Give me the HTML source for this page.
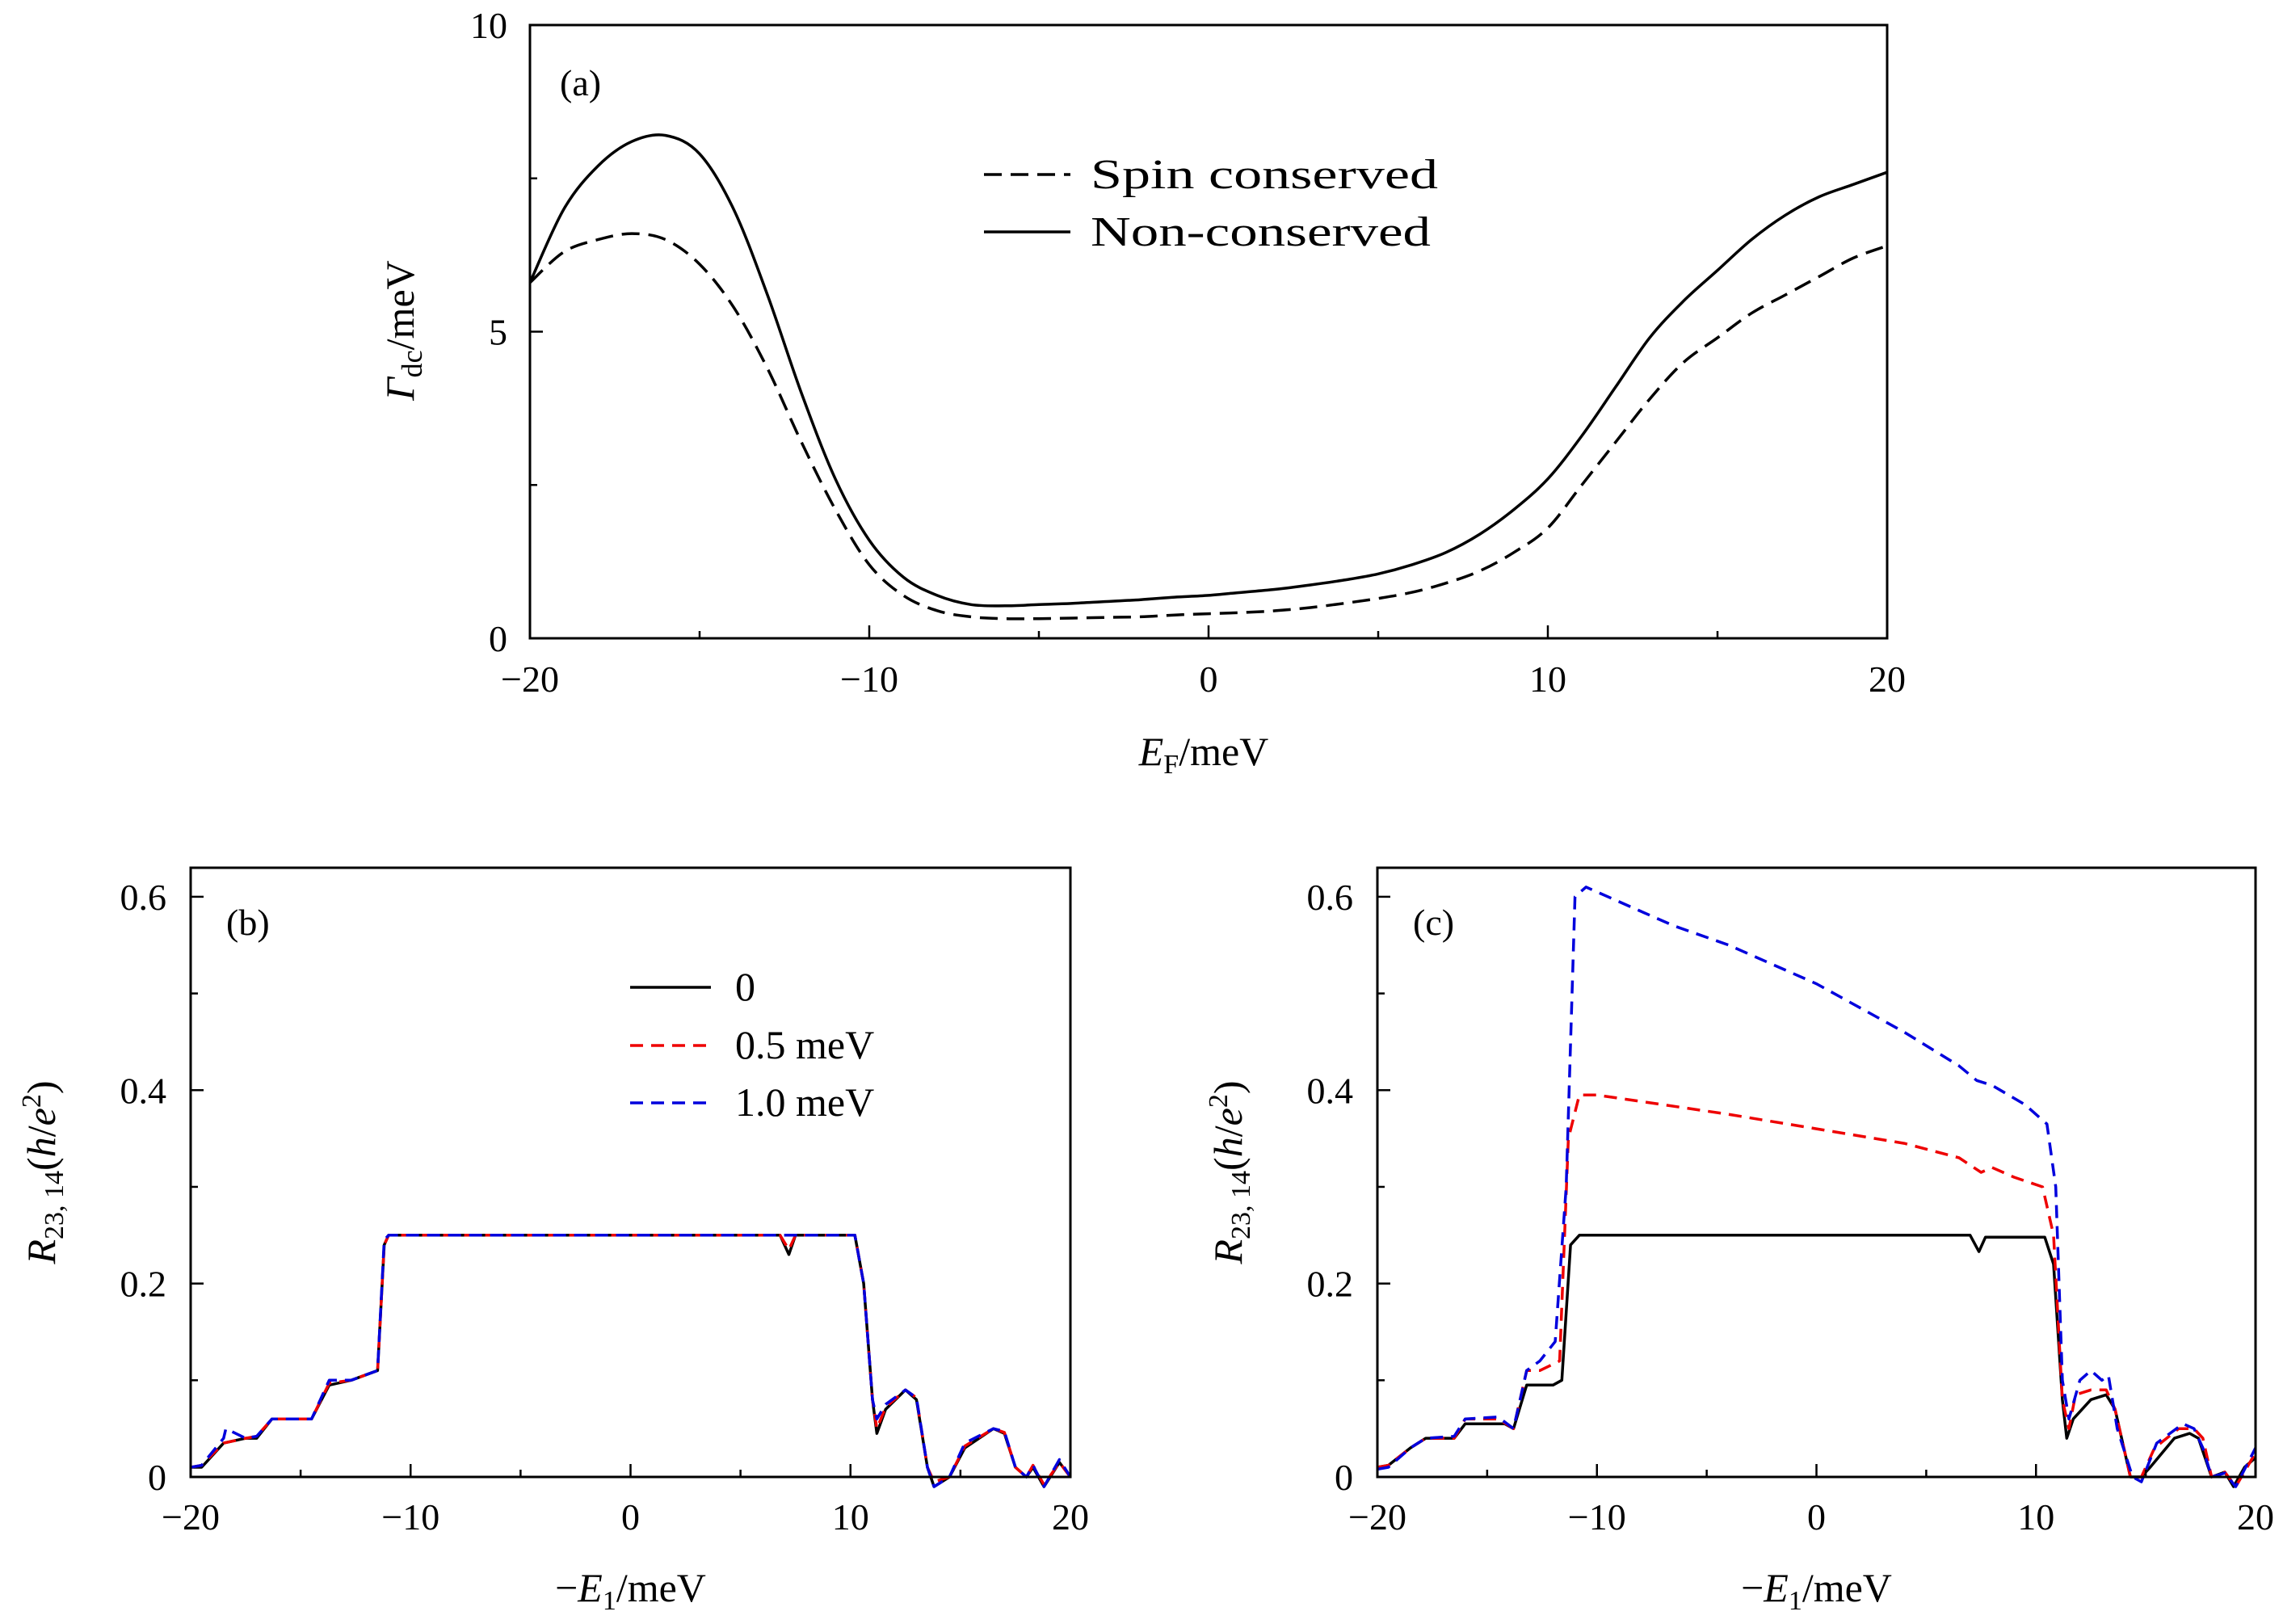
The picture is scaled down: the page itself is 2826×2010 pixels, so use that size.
<!DOCTYPE html>
<html><head><meta charset="utf-8"><style>
html,body{margin:0;padding:0;background:#fff}
svg{display:block}
text{font-family:"Liberation Serif",serif;fill:#000}
</style></head><body>
<svg id="fig" width="2826" height="2010" viewBox="0 0 2826 2010" xmlns="http://www.w3.org/2000/svg"></svg>
<script>
// Panel (a) data
const aX = [-20,-19,-18,-17,-16,-15,-14,-13,-12,-11,-10,-9,-8,-7,-6,-5,-4,-3,-2,-1,0,1,2,3,4,5,6,7,8,9,10,11,12,13,14,15,16,17,18,19,20];
const aNonConserved = [5.8,7.0,7.7,8.1,8.2,7.9,7.0,5.6,4.0,2.6,1.6,1.0,0.7,0.55,0.53,0.55,0.57,0.6,0.63,0.67,0.7,0.75,0.8,0.87,0.95,1.05,1.2,1.4,1.7,2.1,2.6,3.3,4.1,4.9,5.5,6.0,6.5,6.9,7.2,7.4,7.6];
const aSpinConserved = [5.8,6.3,6.5,6.6,6.5,6.1,5.4,4.4,3.2,2.1,1.2,0.7,0.45,0.35,0.32,0.32,0.33,0.34,0.35,0.38,0.4,0.42,0.45,0.5,0.57,0.65,0.75,0.9,1.1,1.4,1.8,2.5,3.2,3.9,4.5,4.9,5.3,5.6,5.9,6.2,6.4];
// Panel (b)/(c) black (0) curve
const bX0 = [-20,-19.5,-18.5,-17.5,-17,-16.3,-14.5,-13.7,-12.7,-11.5,-11.2,-11,6.8,7.2,7.5,10.2,10.6,11,11.2,11.6,12.5,13,13.5,13.8,14.5,15.2,16.5,17,17.5,18,18.3,18.8,19.5,20];
const bY0 = [0.01,0.01,0.035,0.04,0.04,0.06,0.06,0.095,0.1,0.11,0.24,0.25,0.25,0.23,0.25,0.25,0.2,0.08,0.045,0.07,0.09,0.08,0.01,-0.01,0.0,0.03,0.05,0.045,0.01,0.0,0.01,-0.01,0.015,0.0];
const bYRed = [0.01,0.012,0.035,0.04,0.042,0.06,0.06,0.097,0.1,0.11,0.24,0.25,0.25,0.235,0.25,0.25,0.2,0.08,0.05,0.072,0.09,0.082,0.01,-0.005,0.0,0.032,0.05,0.046,0.01,0.0,0.012,-0.008,0.015,0.0];
const bXBlue = [-20,-19.5,-18.5,-18.4,-17.5,-17,-16.3,-14.5,-13.7,-12.7,-11.5,-11.2,-11,6.8,7.2,7.5,10.2,10.6,11,11.2,11.6,12.5,13,13.5,13.8,14.5,15.2,16.5,17,17.5,18,18.3,18.8,19.5,20];
const bYBlue = [0.01,0.012,0.04,0.05,0.04,0.042,0.06,0.06,0.1,0.1,0.11,0.245,0.25,0.25,0.25,0.25,0.25,0.2,0.08,0.06,0.075,0.09,0.082,0.01,-0.01,0.0,0.035,0.05,0.047,0.01,0.0,0.012,-0.01,0.018,0.0];
// Panel (c)
const cX0 = [-20,-19.5,-18.5,-17.8,-16.5,-16,-14.2,-13.8,-13.2,-12,-11.6,-11.2,-10.8,7,7.4,7.7,8,10.4,10.8,11.2,11.4,11.7,12.5,13.2,13.6,14.3,14.6,14.8,15.2,16.3,17,17.4,18,18.6,19,19.5,20];
const cY0 = [0.01,0.012,0.03,0.04,0.04,0.055,0.055,0.05,0.095,0.095,0.1,0.24,0.25,0.25,0.233,0.248,0.248,0.248,0.22,0.08,0.04,0.06,0.08,0.085,0.07,0.0,0.0,0.0,0.01,0.04,0.045,0.04,0.0,0.005,-0.01,0.01,0.02];
const cXRed = [-20,-19.5,-18.5,-17.8,-16.5,-16,-14.5,-13.8,-13.2,-12.6,-11.7,-11.3,-10.8,-10,-7,-4,0,4,6.5,7.5,8,9,10.3,10.8,11.2,11.5,11.8,12.5,13.2,13.6,14.3,14.8,15.4,16.5,17.2,17.6,18,18.6,19.1,20];
const cYRed = [0.01,0.012,0.03,0.04,0.04,0.06,0.06,0.05,0.11,0.11,0.12,0.35,0.395,0.395,0.385,0.375,0.36,0.345,0.33,0.315,0.32,0.31,0.3,0.25,0.08,0.05,0.085,0.09,0.09,0.07,0.0,0.0,0.03,0.05,0.05,0.04,0.0,0.005,-0.01,0.025];
const cXBlue = [-20,-19.5,-18.5,-17.8,-16.5,-16,-14.5,-13.8,-13.2,-12.6,-11.9,-11.4,-11,-10.5,-8,-6.5,-4,0,4,6.5,7.3,8,9.5,10.5,10.9,11.2,11.5,12,12.5,13,13.3,13.7,14.4,14.8,15.5,16.7,17.2,17.6,18,18.6,19.1,20];
const cYBlue = [0.008,0.01,0.03,0.04,0.042,0.06,0.062,0.05,0.11,0.12,0.14,0.3,0.6,0.61,0.585,0.57,0.55,0.51,0.46,0.425,0.41,0.405,0.385,0.365,0.3,0.1,0.06,0.1,0.11,0.1,0.105,0.05,0.0,-0.005,0.035,0.055,0.05,0.03,0.0,0.004,-0.01,0.03];
// Tick labels
const aXTicks = [-20,-10,0,10,20];
const aYTicks = [0,5,10];
const bXTicks = [-20,-10,0,10,20];
const bYTicks = [0,0.2,0.4,0.6];

const NS = 'http://www.w3.org/2000/svg';
const svg = document.getElementById('fig');
function el(tag, attrs, parent, txt){
  const e = document.createElementNS(NS, tag);
  for (const k in attrs) e.setAttribute(k, attrs[k]);
  if (txt !== undefined) e.textContent = txt;
  (parent || svg).appendChild(e);
  return e;
}
function makeAxis(L,R,T,B,x0,x1,y0,y1){
  return {x: v => L + (v - x0) / (x1 - x0) * (R - L), y: v => B - (v - y0) / (y1 - y0) * (B - T)};
}
function fmt(v){ return (v < 0 ? '\u2212' : '') + String(Math.abs(v)); }
function drawFrame(g, ax, L,R,T,B, xMajor, xMinor, yMajor, yMinor, x0,x1,y0,y1, xLblY, yLblX, yFmt){
  const f = el('rect', {x:L, y:T, width:R-L, height:B-T, fill:'none', stroke:'#000', 'stroke-width':3}, g);
  
  
  for (let v = x0; v <= x1 + 1e-9; v += xMinor){
    const major = xMajor.some(m => Math.abs(m - v) < 1e-9);
    const t = el('line', {x1:ax.x(v), x2:ax.x(v), y1:B, y2:B - (major ? 16 : 9), stroke:'#000', 'stroke-width':2.5}, g);
    
    
  }
  for (let v = y0; v <= y1 + 1e-9; v += yMinor){
    const major = yMajor.some(m => Math.abs(m - v) < 1e-9);
    const t = el('line', {x1:L, x2:L + (major ? 16 : 9), y1:ax.y(v), y2:ax.y(v), stroke:'#000', 'stroke-width':2.5}, g);
    
    
  }
  xMajor.forEach(v => {
    const t = el('text', {x:ax.x(v), y:xLblY, 'font-size':46, 'text-anchor':'middle'}, g, fmt(v));
    
    
  });
  yMajor.forEach(v => {
    const t = el('text', {x:yLblX, y:ax.y(v) + 16, 'font-size':46, 'text-anchor':'end'}, g, yFmt(v));
    
    
  });
}
function line(g, ax, xs, ys, color, dash, name, clip, smooth){
  const P = xs.map((x,i) => [ax.x(x), ax.y(ys[i])]);
  let d;
  if (smooth){
    d = 'M' + P[0][0].toFixed(1) + ' ' + P[0][1].toFixed(1);
    for (let i = 0; i < P.length - 1; i++){
      const p0 = P[Math.max(0,i-1)], p1 = P[i], p2 = P[i+1], p3 = P[Math.min(P.length-1,i+2)];
      const c1 = [p1[0] + (p2[0]-p0[0])/6, p1[1] + (p2[1]-p0[1])/6];
      const c2 = [p2[0] - (p3[0]-p1[0])/6, p2[1] - (p3[1]-p1[1])/6];
      d += ' C' + c1[0].toFixed(1) + ' ' + c1[1].toFixed(1) + ' ' + c2[0].toFixed(1) + ' ' + c2[1].toFixed(1) + ' ' + p2[0].toFixed(1) + ' ' + p2[1].toFixed(1);
    }
  } else {
    d = P.map((p,i) => (i ? 'L' : 'M') + p[0].toFixed(1) + ' ' + p[1].toFixed(1)).join(' ');
  }
  const p = el('path', {d, fill:'none', stroke:color, 'stroke-width':3.5, 'stroke-linejoin':'round'}, g);
  if (dash) p.setAttribute('stroke-dasharray', dash);
  if (clip) p.setAttribute('clip-path', clip);
  
  
  return p;
}
function label(g, x, y, txt, name, size, len){
  const t = el('text', {x, y, 'font-size':size || 46}, g, txt);
  if (len){ t.setAttribute('textLength', len); t.setAttribute('lengthAdjust', 'spacingAndGlyphs'); }
  
  
  return t;
}

// ===== Panel (a)
const gA = el('g', {});


const A = {L:656, R:2336, T:31, B:790};
const axA = makeAxis(A.L, A.R, A.T, A.B, -20, 20, 0, 10);
drawFrame(gA, axA, A.L, A.R, A.T, A.B, aXTicks, 5, aYTicks, 2.5, -20, 20, 0, 10, 856, 628, v => String(v));
line(gA, axA, aX, aSpinConserved, '#000', '22 11', 'spin-conserved-line', null, true);
line(gA, axA, aX, aNonConserved, '#000', null, 'non-conserved-line', null, true);
label(gA, 693, 118, '(a)', 'panel-a-label');
let lg = el('g', {}, gA);


let ll = el('line', {x1:1218, x2:1325, y1:216, y2:216, stroke:'#000', 'stroke-width':3.5, 'stroke-dasharray':'22 11'}, lg);


label(lg, 1350, 233, 'Spin conserved', 'legend-spin-conserved', 52, 430);
ll = el('line', {x1:1218, x2:1325, y1:287, y2:287, stroke:'#000', 'stroke-width':3.5}, lg);


label(lg, 1350, 304, 'Non-conserved', 'legend-non-conserved', 52, 421);
let yt = el('text', {transform:'translate(512 409) rotate(-90)', 'font-size':50, 'text-anchor':'middle'}, gA);


yt.innerHTML = '<tspan font-style="italic">Γ</tspan><tspan font-size="36" dy="10">dc</tspan><tspan dy="-10">/meV</tspan>';
let xt = el('text', {x:1490, y:947, 'font-size':50, 'text-anchor':'middle'}, gA);


xt.innerHTML = '<tspan font-style="italic">E</tspan><tspan font-size="34" dy="10">F</tspan><tspan dy="-10">/meV</tspan>';

// ===== Panels (b), (c)
function bottomPanel(name, L, R, series, tag, legend){
  const g = el('g', {});
  
  
  const T = 1074, B = 1828;
  const ax = makeAxis(L, R, T, B, -20, 20, 0, 0.63);
  const cid = 'clip-' + name;
  const cp = el('clipPath', {id:cid}, g);
  el('rect', {x:L, y:T, width:R-L, height:B-T+20}, cp);
  series.forEach(s => line(g, ax, s[0], s[1], s[2], s[3], s[4], 'url(#' + cid + ')'));
  drawFrame(g, ax, L, R, T, B, bXTicks, 5, bYTicks, 0.1, -20, 20, 0, 0.6, 1893, L - 30, v => v === 0 ? '0' : v.toFixed(1));
  label(g, L + 44, 1157, tag, name + '-label');
  let t = el('text', {transform:'translate(' + (L - 168) + ' 1451) rotate(-90)', 'font-size':50, 'text-anchor':'middle'}, g);
  
  
  t.innerHTML = '<tspan font-style="italic">R</tspan><tspan font-size="34" dy="10">23, 14</tspan><tspan dy="-10">(</tspan><tspan font-style="italic">h</tspan><tspan>/</tspan><tspan font-style="italic">e</tspan><tspan font-size="34" dy="-18">2</tspan><tspan dy="18">)</tspan>';
  t = el('text', {x:(L + R) / 2, y:1982, 'font-size':50, 'text-anchor':'middle'}, g);
  
  
  t.innerHTML = '<tspan>\u2212</tspan><tspan font-style="italic">E</tspan><tspan font-size="34" dy="10">1</tspan><tspan dy="-10">/meV</tspan>';
  if (legend){
    const lg = el('g', {}, g);
    
    
    const items = [['0','#000',null,1222],['0.5 meV','#e00','16 10',1294],['1.0 meV','#00d','16 10',1365]];
    items.forEach(it => {
      const s = el('line', {x1:780, x2:880, y1:it[3], y2:it[3], stroke:it[1], 'stroke-width':3.5}, lg);
      if (it[2]) s.setAttribute('stroke-dasharray', it[2]);
      
      
      label(lg, 910, it[3] + 16, it[0], 'legend-entry', 50);
    });
  }
}
bottomPanel('panel-b', 236, 1325, [
  [bX0, bY0, '#000', null, 'line-0'],
  [bX0, bYRed, '#e00', '16 10', 'line-0p5-mev'],
  [bXBlue, bYBlue, '#00d', '16 10', 'line-1p0-mev']
], '(b)', true);
bottomPanel('panel-c', 1705, 2792, [
  [cX0, cY0, '#000', null, 'line-0'],
  [cXRed, cYRed, '#e00', '16 10', 'line-0p5-mev'],
  [cXBlue, cYBlue, '#00d', '16 10', 'line-1p0-mev']
], '(c)', false);
</script>
</body></html>
